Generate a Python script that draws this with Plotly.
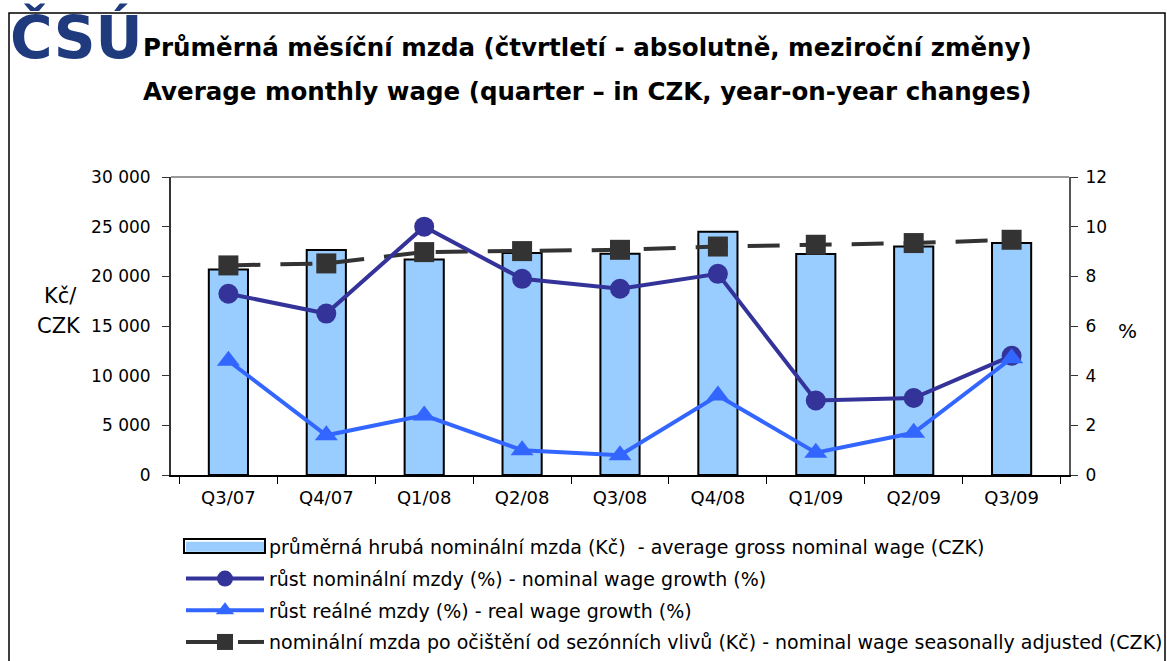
import plotly.graph_objects as go

quarters = ["Q3/07", "Q4/07", "Q1/08", "Q2/08", "Q3/08", "Q4/08", "Q1/09", "Q2/09", "Q3/09"]
avg_wage = [20700, 22650, 21700, 22350, 22270, 24500, 22250, 23000, 23350]
nominal_growth = [7.3, 6.5, 10.0, 7.9, 7.5, 8.1, 3.0, 3.1, 4.8]
real_growth = [4.6, 1.6, 2.4, 1.0, 0.8, 3.2, 0.9, 1.7, 4.7]
seas_adj = [21100, 21300, 22440, 22540, 22670, 23000, 23180, 23350, 23680]

names = [
    "průměrná hrubá nominální mzda (Kč)  - average gross nominal wage (CZK)",
    "růst nominální mzdy (%) - nominal wage growth (%)",
    "růst reálné mzdy (%) - real wage growth (%)",
    "nominální mzda po očištění od sezónních vlivů (Kč) - nominal wage seasonally adjusted (CZK)",
]

W, H = 1167, 661
L, R, T, B = 171, 1069, 177, 475
FONT = "DejaVu Sans"


def px(x):
    return (x - L) / (R - L)


def py(y):
    return (B - y) / (B - T)


fig = go.Figure()
fig.add_trace(go.Bar(
    x=quarters, y=avg_wage, name=names[0], yaxis="y", showlegend=False, legendgroup="g1",
    marker=dict(color="#99CCFF", line=dict(color="#000000", width=2)),
))
# legend entry for the bars (wide rectangle like the original legend key)
fig.add_trace(go.Scatter(
    x=[None], y=[None], name=names[0], yaxis="y", mode="lines", legendgroup="g1",
    line=dict(color="#99CCFF", width=11),
))
fig.add_trace(go.Scatter(
    x=quarters, y=nominal_growth, name=names[1], yaxis="y2", mode="lines+markers",
    legendgroup="g2",
    line=dict(color="#333399", width=4),
    marker=dict(symbol="circle", size=20, color="#333399"),
))
fig.add_trace(go.Scatter(
    x=quarters, y=real_growth, name=names[2], yaxis="y2", mode="lines+markers",
    legendgroup="g3",
    line=dict(color="#3366FF", width=4),
    marker=dict(symbol="triangle-up", size=20, color="#3366FF"),
))
fig.add_trace(go.Scatter(
    x=quarters, y=seas_adj, name=names[3], yaxis="y", mode="lines+markers",
    legendgroup="g4",
    line=dict(color="#333333", width=4, dash="32px,20px"),
    marker=dict(symbol="square", size=20, color="#333333"),
))

tickfont = dict(family=FONT, size=17, color="#000000")
ROW1 = 546

fig.update_layout(
    width=W, height=H, autosize=False,
    margin=dict(l=L, r=W - R, t=T, b=H - B, autoexpand=False),
    paper_bgcolor="#FFFFFF", plot_bgcolor="#FFFFFF",
    separators=", ",
    bargap=0.6,
    showlegend=True,
    legend=dict(
        x=px(181), y=py(ROW1 - 18), xanchor="left", yanchor="top",
        font=dict(family=FONT, size=19, color="#000000"),
        itemwidth=78, traceorder="grouped", bgcolor="rgba(0,0,0,0)",
        tracegroupgap=4,
    ),
    xaxis=dict(
        type="category", showgrid=False, showline=True, linecolor="#000000", linewidth=2,
        ticks="outside", ticklen=7, tickson="boundaries", tickcolor="#000000",
        tickfont=dict(family=FONT, size=18, color="#000000"), ticklabelstandoff=5,
    ),
    yaxis=dict(
        range=[0, 30000], dtick=5000, tickformat=",d", showgrid=False, zeroline=False,
        showline=True, linecolor="#333333", linewidth=2,
        ticks="outside", ticklen=7, tickcolor="#333333", tickfont=tickfont,
        ticklabelstandoff=8,
    ),
    yaxis2=dict(
        range=[0, 12], dtick=2, overlaying="y", side="right", showgrid=False, zeroline=False,
        showline=True, linecolor="#555555", linewidth=2,
        ticks="outside", ticklen=7, tickcolor="#333333", tickfont=tickfont,
        ticklabelstandoff=4,
    ),
    shapes=[
        dict(type="line", xref="paper", yref="paper", x0=0, x1=1, y0=1, y1=1,
             line=dict(color="#999999", width=2)),
        dict(type="rect", xref="paper", yref="paper", x0=px(9), x1=px(1165), y0=py(13), y1=py(700),
             line=dict(color="#000000", width=1.5), fillcolor="rgba(0,0,0,0)"),
        # outline of the bar legend key
        dict(type="rect", xref="paper", yref="paper", x0=px(184), x1=px(265),
             y0=py(ROW1 + 7), y1=py(ROW1 - 7),
             line=dict(color="#000000", width=2), fillcolor="rgba(0,0,0,0)"),
    ],
    annotations=[
        dict(text="<b>Průměrná měsíční mzda (čtvrtletí - absolutně, meziroční změny)</b>",
             xref="paper", yref="paper", x=px(587), y=py(47), xanchor="center", yanchor="middle",
             showarrow=False, font=dict(family="DejaVu Sans", size=24.5, color="#000000")),
        dict(text="<b>Average monthly wage (quarter – in CZK, year-on-year changes)</b>",
             xref="paper", yref="paper", x=px(587), y=py(91), xanchor="center", yanchor="middle",
             showarrow=False, font=dict(family="DejaVu Sans", size=24.5, color="#000000")),
        dict(text="<b>ČSÚ</b>", xref="paper", yref="paper", x=px(8), y=py(37),
             xanchor="left", yanchor="middle", showarrow=False,
             font=dict(family="DejaVu Sans", size=58, color="#1F3A7D")),
        dict(text="Kč/", xref="paper", yref="paper", x=px(60), y=py(296),
             xanchor="center", yanchor="middle", showarrow=False,
             font=dict(family=FONT, size=21, color="#000000")),
        dict(text="CZK", xref="paper", yref="paper", x=px(59), y=py(326),
             xanchor="center", yanchor="middle", showarrow=False,
             font=dict(family=FONT, size=21, color="#000000")),
        dict(text="%", xref="paper", yref="paper", x=px(1127), y=py(331),
             xanchor="center", yanchor="middle", showarrow=False,
             font=dict(family=FONT, size=20, color="#000000")),
    ],
)

fig.write_html("out.html", config={"displayModeBar": False},
               post_script="document.body.style.margin='0';")
